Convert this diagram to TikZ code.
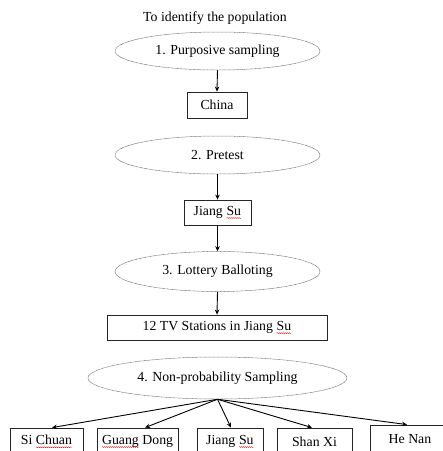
\documentclass[tikz,border=0pt]{standalone}
\usepackage{fontspec}
\setmainfont{Liberation Serif}
\usetikzlibrary{shapes.geometric,arrows.meta,decorations.pathmorphing}
\newcommand\sqw[1]{\tikz[baseline=(sqn.base)]{\node[rectangle,draw=none,minimum width=0pt,minimum height=0pt,inner sep=0pt,outer sep=0pt] (sqn) {#1};\draw[red!85!black,line width=0.35pt,decorate,decoration={snake,amplitude=0.5pt,segment length=2pt}] ([yshift=-2.6pt]sqn.base west) -- ([yshift=-2.6pt]sqn.base east);}}
\tikzset{
  oval/.style={ellipse,draw=black!60,line width=0.5pt,dash pattern=on 0.8pt off 0.5pt,inner sep=0pt},
  box/.style={rectangle,draw=black!85,line width=0.8pt,inner sep=0pt},
  arr/.style={-{Stealth[length=5pt,width=4.5pt]},line width=0.9pt,black},
}
\begin{document}
\begin{tikzpicture}[x=1pt,y=-1pt,font=\fontsize{13.8}{16}\selectfont]
\useasboundingbox (0,0) rectangle (443,451);
\clip (0,0) rectangle (443,451);
\node (title) at (215,18) {To identify the population};
\node[oval,minimum width=205pt,minimum height=38pt] (e1) at (217.5,51) {1. Purposive sampling};
\node[box,minimum width=60pt,minimum height=26pt] (china) at (217,105) {China};
\node[oval,minimum width=205pt,minimum height=38pt] (e2) at (217.5,155) {2. Pretest};
\node[box,minimum width=67pt,minimum height=25pt] (js) at (217.5,212.5) {Jiang \sqw{Su}};
\node[oval,minimum width=205pt,minimum height=40pt] (e3) at (217.5,271.5) {3. Lottery Balloting};
\node[box,minimum width=220pt,minimum height=25pt] (tv) at (217,327.5) {12 TV Stations in Jiang \sqw{Su}};
\node[oval,minimum width=259pt,minimum height=42pt] (e4) at (217.5,378) {4. Non-probability Sampling};
\node[box,minimum width=73pt,minimum height=27pt] (sc) at (46.5,441.5) {Si \sqw{Chuan}};
\node[box,minimum width=81pt,minimum height=27pt] (gd) at (137.5,441.5) {\sqw{Guang} Dong};
\node[box,minimum width=66pt,minimum height=27pt] (js2) at (230,441.5) {Jiang \sqw{Su}};
\node[box,minimum width=75pt,minimum height=27pt] (sx) at (314.5,441.5) {Shan Xi};
\node[box,minimum width=80pt,minimum height=28pt] (hn) at (410,439) {He Nan};
\draw[arr] (e1.south) -- (china.north);
\draw[arr] (e2.south) -- (js.north);
\draw[arr] (js.south) -- (e3.north);
\draw[arr] (e3.south) -- (tv.north);
\draw[arr] (e4.south) -- ([xshift=5.5pt]sc.north);
\draw[arr] (e4.south) -- ([xshift=7.5pt]gd.north);
\draw[arr] (e4.south) -- ([xshift=1pt]js2.north);
\draw[arr] (e4.south) -- ([xshift=-2.5pt]sx.north);
\draw[arr] (e4.south) -- ([xshift=-3pt]hn.north);
\end{tikzpicture}
\end{document}
